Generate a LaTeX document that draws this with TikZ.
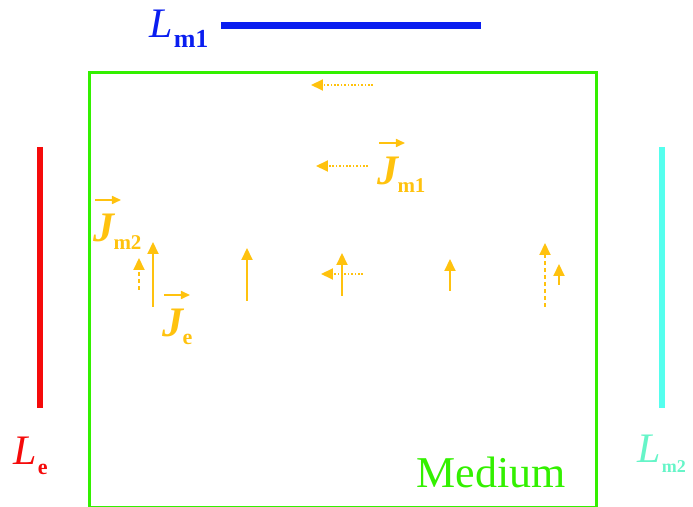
\documentclass[tikz,border=0pt]{standalone}
\usepackage{fontspec}
\setmainfont{Liberation Serif}
\usetikzlibrary{arrows.meta}
\definecolor{amber}{HTML}{FFC20E}
\definecolor{medgreen}{HTML}{33F000}
\definecolor{lmblue}{HTML}{0A1EF0}
\definecolor{lered}{HTML}{F50A0A}
\definecolor{lmcyan}{HTML}{55FFEE}
\definecolor{lmaqua}{HTML}{66F5C8}
% subscripted symbol: #1 main letter, #2 subscript, #3 sub size
\newcommand{\symL}[3]{\fontsize{21}{21}\selectfont\textit{#1}\kern0.5pt\raisebox{-5pt}{\fontsize{#3}{#3}\selectfont\bfseries #2}}
\newcommand{\symJ}[2]{\fontsize{21}{21}\selectfont\textbf{\textit{J}}\kern-1pt\raisebox{-4pt}{\fontsize{#2}{#2}\selectfont\bfseries #1}}
\tikzset{
  cur/.style={draw=amber, line width=1pt, -{Triangle[length=6pt,width=5.5pt]}},
  curdot/.style={cur, dash pattern=on 0.8pt off 0.9pt},
  curdash/.style={cur, dash pattern=on 2pt off 1.5pt},
  vecarr/.style={draw=amber, line width=0.8pt, -{Triangle[length=4.5pt,width=4pt]}},
  lbl/.style={inner sep=0pt, anchor=base west},
  lead/.style={line width=3pt}
}
\begin{document}
\begin{tikzpicture}[x=0.5pt, y=-0.5pt]
  \useasboundingbox (0,0) rectangle (693,507);

  % Medium
  \draw[medgreen, line width=1.5pt] (90,73) rectangle (597,508);
  \node[lbl, text=medgreen, font=\fontsize{22}{22}\selectfont] (med) at (416,488) {Medium};

  % Leads
  \draw[lmblue, line width=3.5pt] (221,26) -- (481,26);
  \node[lbl, text=lmblue] (lm1) at (149,38) {\symL{L}{m1}{13}};
  \draw[lered, lead] (40,147) -- (40,408);
  \node[lbl, text=lered] (le) at (13,465) {\symL{L}{e}{11}};
  \draw[lmcyan, lead] (662,147) -- (662,408);
  \node[lbl, text=lmaqua] (lm2) at (637,463) {\symL{L}{m2}{9}};

  % Currents
  \draw[curdot] (373,85) -- (311,85);
  \draw[curdot] (368,166) -- (316,166);
  \draw[curdash] (139,290) -- (139,258);
  \draw[cur] (153,307) -- (153,242);
  \draw[cur] (247,301) -- (247,248);
  \draw[cur] (342,296) -- (342,253);
  \draw[curdot] (363,274) -- (321,274);
  \draw[cur] (450,291) -- (450,259);
  \draw[curdash] (545,307) -- (545,243);
  \draw[cur] (559,285) -- (559,264);

  % Current labels
  \node[lbl, text=amber] (jm1) at (377,185) {\symJ{m1}{10.5}};
  \draw[vecarr] ([xshift=1pt, yshift=21pt]jm1.base west) -- ++(13pt,0);
  \node[lbl, text=amber] (jm2) at (93,242) {\symJ{m2}{10.5}};
  \draw[vecarr] ([xshift=1pt, yshift=21pt]jm2.base west) -- ++(13pt,0);
  \node[lbl, text=amber] (je) at (162,337) {\symJ{e}{11}};
  \draw[vecarr] ([xshift=1pt, yshift=21pt]je.base west) -- ++(13pt,0);
\end{tikzpicture}
\end{document}
